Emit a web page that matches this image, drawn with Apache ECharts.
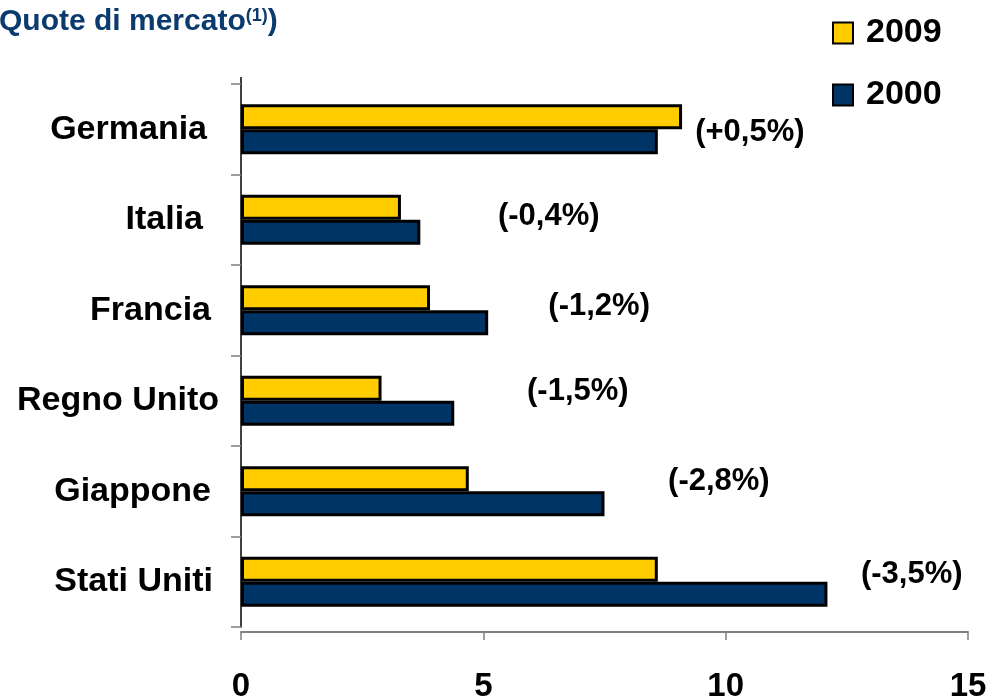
<!DOCTYPE html>
<html>
<head>
<meta charset="utf-8">
<script src="https://cdn.jsdelivr.net/npm/echarts@6/dist/echarts.min.js"></script>
<style>
  html, body { margin: 0; padding: 0; background: #fff; }
  #chart { width: 990px; height: 698px; }
</style>
</head>
<body>
<div id="chart"></div>
<script>
// Market shares by country, 2009 vs 2000
const countries = ['Germania', 'Italia', 'Francia', 'Regno Unito', 'Giappone', 'Stati Uniti'];
const share2009 = [9.1, 3.3, 3.9, 2.9, 4.7, 8.6];
const share2000 = [8.6, 3.7, 5.1, 4.4, 7.5, 12.1];
const xTicks = [0, 5, 10, 15];

// Change in share points, written as "(+0,5%)"
function changeText(i) {
  const d = Math.round((share2009[i] - share2000[i]) * 10) / 10;
  const s = (d > 0 ? '+' : d < 0 ? '-' : '') + Math.abs(d).toFixed(1).replace('.', ',');
  return '(' + s + '%)';
}

// Layout of the change notes: x in axis units, vertical nudge in px
const noteX = [10.5, 6.35, 7.39, 6.95, 9.86, 13.84];
const noteDy = [3, -3, -4, -9, -10, -7];
// Extra right padding of each country name (px)
const namePad = [12, 16, 8, 0, 8, 6];

const FONT = '"Liberation Sans", Arial, sans-serif';
const NAVY = '#003366';
const YELLOW = '#FFCC00';

const chart = echarts.init(document.getElementById('chart'), null, { renderer: 'canvas' });

const barStyle = (color) => ({ color: color, borderColor: '#000', borderWidth: 3 });

const nameRich = {};
namePad.forEach((p, i) => {
  nameRich['n' + i] = { fontFamily: FONT, fontWeight: 'bold', fontSize: 34, color: '#000', padding: [0, p, 0, 0] };
});

chart.setOption({
  animation: false,
  backgroundColor: '#fff',
  title: {
    text: '{t|Quote di mercato}{s|(1)}{t|)}',
    left: -6,
    top: 2,
    textStyle: {
      rich: {
        t: { fontFamily: FONT, fontWeight: 'bold', fontSize: 30, color: '#0B3A6E' },
        s: { fontFamily: FONT, fontWeight: 'bold', fontSize: 18, color: '#0B3A6E', verticalAlign: 'top' }
      }
    }
  },
  legend: {
    orient: 'vertical',
    left: 832,
    top: 16,
    padding: 0,
    itemWidth: 20,
    itemHeight: 21,
    itemGap: 28,
    icon: 'rect',
    data: ['2009', '2000'],
    textStyle: { fontFamily: FONT, fontWeight: 'bold', fontSize: 34, color: '#000', padding: [0, 0, 0, 8] }
  },
  grid: { left: 241, right: 22, top: 84, bottom: 71, containLabel: false, outerBoundsMode: 'none' },
  xAxis: {
    type: 'value',
    min: xTicks[0],
    max: xTicks[xTicks.length - 1],
    interval: xTicks[1] - xTicks[0],
    offset: 5,
    axisLine: { show: true, lineStyle: { color: '#808080', width: 2 } },
    axisTick: { show: true, length: 8, lineStyle: { color: '#808080', width: 1.5 } },
    splitLine: { show: false },
    axisLabel: { margin: 38, fontFamily: FONT, fontWeight: 'bold', fontSize: 33, color: '#000' }
  },
  yAxis: {
    type: 'category',
    inverse: true,
    data: countries,
    axisLine: { show: true, lineStyle: { color: '#000', width: 1.5 } },
    axisTick: { show: true, length: 10, lineStyle: { color: '#808080', width: 1.5 } },
    axisLabel: {
      margin: 22,
      formatter: (v, i) => '{n' + i + '|' + v + '}',
      rich: nameRich
    }
  },
  graphic: [
    {
      // short run of the category axis above the first band
      type: 'line',
      shape: { x1: 241, y1: 77, x2: 241, y2: 84 },
      style: { stroke: '#000', lineWidth: 1.5 },
      silent: true
    }
  ],
  series: [
    {
      name: '2009',
      type: 'bar',
      data: share2009,
      barWidth: 25,
      barGap: '0%',
      itemStyle: barStyle(YELLOW)
    },
    {
      name: '2000',
      type: 'bar',
      data: share2000,
      barWidth: 25,
      barGap: '0%',
      itemStyle: barStyle(NAVY)
    },
    {
      name: 'variazione',
      type: 'scatter',
      symbolSize: 0,
      silent: true,
      itemStyle: { opacity: 1 },
      data: countries.map((c, i) => ({
        value: [noteX[i], c],
        label: { offset: [0, noteDy[i]] }
      })),
      label: {
        show: true,
        position: 'inside',
        formatter: (p) => changeText(p.dataIndex),
        fontFamily: FONT,
        fontWeight: 'bold',
        fontSize: 31,
        color: '#000',
        opacity: 1
      }
    }
  ]
});
</script>
</body>
</html>
